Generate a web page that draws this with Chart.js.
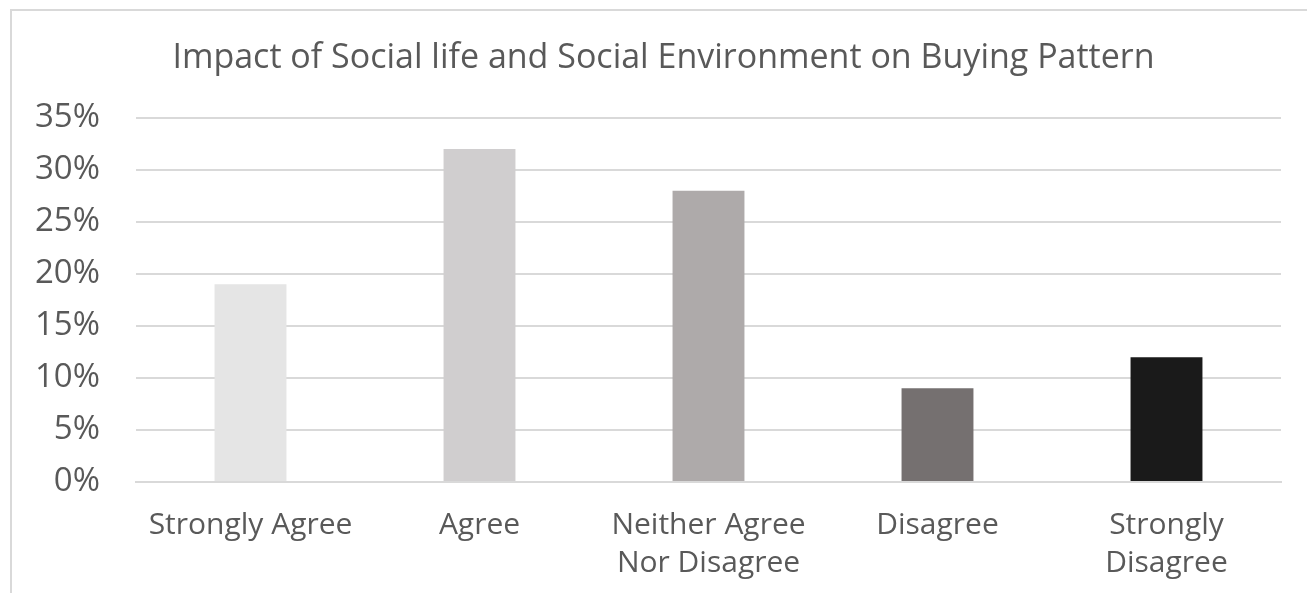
<!DOCTYPE html>
<html>
<head>
<meta charset="utf-8">
<script src="https://cdn.jsdelivr.net/npm/chart.js@4/dist/chart.umd.min.js"></script>
<style>
  html, body { margin: 0; padding: 0; background: #fff; }
  #wrap { position: relative; width: 1307px; height: 593px; overflow: hidden; }
  #frame { position: absolute; left: 10px; top: 9px; width: 1400px; height: 700px; border: 2px solid #d9d9d9; box-sizing: border-box; }
  canvas { position: absolute; left: 0; top: 0; }
</style>
</head>
<body>
<div id="wrap">
  <div id="frame"></div>
  <canvas id="c" width="1307" height="593"></canvas>
</div>
<script>
const categories = ['Strongly Agree', 'Agree', ['Neither Agree', 'Nor Disagree'], 'Disagree', ['Strongly', 'Disagree']];
const values = [0.19, 0.32, 0.28, 0.09, 0.12];
const barColors = ['#e5e5e5', '#d0cecf', '#aeaaaa', '#757070', '#1a1a1a'];
const titleText = 'Impact of Social life and Social Environment on Buying Pattern';

const FONT = "'Open Sans', sans-serif";
const TEXT = '#595959';

// shift the title block so it is centred where the reference has it
const titleShift = {
  id: 'titleShift',
  afterLayout(chart) {
    const t = chart.titleBlock;
    if (t) { t.left += 17; t.right += 17; }
  }
};

new Chart(document.getElementById('c'), {
  type: 'bar',
  data: {
    labels: categories,
    datasets: [{
      data: values,
      backgroundColor: barColors,
      borderWidth: 0,
      categoryPercentage: 1,
      barPercentage: 0.314
    }]
  },
  options: {
    responsive: false,
    animation: false,
    layout: { padding: { left: 12, right: 26, top: 0, bottom: 0 } },
    plugins: {
      legend: { display: false },
      tooltip: { enabled: false },
      title: {
        display: true,
        text: titleText,
        color: TEXT,
        font: { family: FONT, size: 34, weight: 'normal', lineHeight: 1.2 },
        padding: { top: 38, bottom: 39 }
      }
    },
    scales: {
      y: {
        min: 0, max: 0.35,
        ticks: {
          stepSize: 0.05,
          color: TEXT,
          font: { family: FONT, size: 33 },
          padding: 36,
          callback: v => Math.round(v * 100) + '%'
        },
        grid: { color: '#d9d9d9', lineWidth: 2, drawTicks: false },
        border: { display: false },
        afterFit: s => { s.width = 124; }
      },
      x: {
        ticks: {
          color: TEXT,
          font: { family: FONT, size: 30, lineHeight: 1.27 },
          padding: 24,
          maxRotation: 0,
          autoSkip: false
        },
        grid: { display: false, drawTicks: false },
        border: { color: '#d9d9d9', width: 2 },
        afterFit: s => { s.height = 111; }
      }
    }
  },
  plugins: [titleShift]
});
</script>
</body>
</html>
